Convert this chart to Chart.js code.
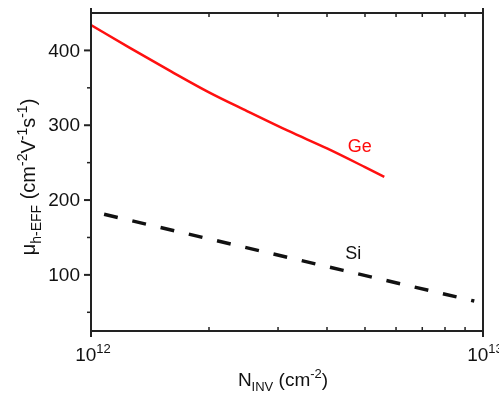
<!DOCTYPE html>
<html lang="en">
<head>
  <meta charset="UTF-8">
  <title>Hole mobility vs inversion charge</title>
  <script src="https://cdn.jsdelivr.net/npm/chart.js"></script>
  <style>
    body {
      margin: 0;
      padding: 0;
      background: #ffffff;
    }
    canvas {
      display: block;
    }
  </style>
</head>
<body>
  <canvas id="mobilityChart" width="499" height="393"></canvas>

  <script>
    // Ge curve (N_inv in cm^-2, mobility in cm^2/Vs)
    const geN = [1e12, 1.25e12, 1.6e12, 2e12, 2.5e12, 3.2e12, 4e12, 5e12, 5.6e12];
    const geMu = [434, 404, 372, 344, 319, 292, 269, 244, 231];

    // Si curve
    const siN = [1.08e12, 4.4e12, 9.5e12];
    const siMu = [181, 106, 65];

    const yMajor = [100, 200, 300, 400];
    const yMinor = [50, 150, 250, 350];
    const xMajor = [1e12, 1e13];
    const xMajorLabels = [['10', '12'], ['10', '13']];
    const xMinor = [2e12, 3e12, 4e12, 5e12, 6e12, 7e12, 8e12, 9e12];

    const fonte = '"Liberation Sans", Arial, Helvetica, sans-serif';

    function pontos(xs, ys) {
      return xs.map((x, i) => ({ x: x, y: ys[i] }));
    }

    // texto com sub/sobrescrito, partes: [texto, 'n'|'sub'|'sup']
    function textoMisto(ctx, partes, x, y, tam, alinhar) {
      const tamPeq = Math.round(tam * 0.7);
      let largura = 0;
      partes.forEach(p => {
        ctx.font = (p[1] === 'n' ? tam : tamPeq) + 'px ' + fonte;
        largura += ctx.measureText(p[0]).width;
      });
      let cx = alinhar === 'center' ? x - largura / 2 : x;
      ctx.textAlign = 'left';
      ctx.textBaseline = 'alphabetic';
      partes.forEach(p => {
        ctx.font = (p[1] === 'n' ? tam : tamPeq) + 'px ' + fonte;
        let dy = 0;
        if (p[1] === 'sub') dy = tam * 0.28;
        if (p[1] === 'sup') dy = -tam * 0.4;
        ctx.fillText(p[0], cx, y + dy);
        cx += ctx.measureText(p[0]).width;
      });
    }

    const eixos = {
      id: 'eixos',
      afterDraw(chart) {
        const ctx = chart.ctx;
        const a = chart.chartArea;
        const sx = chart.scales.x;
        const sy = chart.scales.y;
        ctx.save();
        ctx.strokeStyle = '#222';
        ctx.fillStyle = '#111';
        ctx.lineWidth = 2;

        // moldura
        ctx.beginPath();
        ctx.moveTo(a.left, a.top);
        ctx.lineTo(a.right, a.top);
        ctx.moveTo(a.left, a.bottom);
        ctx.lineTo(a.right, a.bottom);
        ctx.stroke();

        // ticks maiores em x (atravessam a moldura)
        xMajor.forEach(v => {
          const px = sx.getPixelForValue(v);
          ctx.beginPath();
          ctx.moveTo(px, a.top - 5);
          ctx.lineTo(px, a.bottom + 6);
          ctx.stroke();
        });

        // ticks menores em x (para dentro)
        ctx.lineWidth = 1.5;
        xMinor.forEach(v => {
          const px = sx.getPixelForValue(v);
          ctx.beginPath();
          ctx.moveTo(px, a.bottom);
          ctx.lineTo(px, a.bottom - 4);
          ctx.moveTo(px, a.top);
          ctx.lineTo(px, a.top + 4);
          ctx.stroke();
        });

        // ticks em y (para fora)
        ctx.lineWidth = 2;
        yMajor.forEach(v => {
          const py = sy.getPixelForValue(v);
          ctx.beginPath();
          ctx.moveTo(a.left - 7, py);
          ctx.lineTo(a.left, py);
          ctx.stroke();
        });
        ctx.lineWidth = 1.5;
        yMinor.forEach(v => {
          const py = sy.getPixelForValue(v);
          ctx.beginPath();
          ctx.moveTo(a.left - 4, py);
          ctx.lineTo(a.left, py);
          ctx.stroke();
        });

        // rótulos de y
        ctx.font = '19px ' + fonte;
        ctx.textAlign = 'right';
        ctx.textBaseline = 'middle';
        yMajor.forEach(v => {
          ctx.fillText(String(v), a.left - 11, sy.getPixelForValue(v) + 1);
        });

        // rótulos de x
        xMajor.forEach((v, i) => {
          const l = xMajorLabels[i];
          textoMisto(ctx, [[l[0], 'n'], [l[1], 'sup']], sx.getPixelForValue(v) + 2, 361, 19, 'center');
        });

        // título x
        textoMisto(ctx, [['N', 'n'], ['INV', 'sub'], [' (cm', 'n'], ['-2', 'sup'], [')', 'n']],
          (a.left + a.right) / 2 - 4, 386, 19, 'center');

        // título y (girado)
        ctx.save();
        ctx.translate(35, (a.top + a.bottom) / 2 + 5);
        ctx.rotate(-Math.PI / 2);
        textoMisto(ctx, [['\u03bc', 'n'], ['h-EFF', 'sub'], [' (cm', 'n'], ['-2', 'sup'], ['V', 'n'],
          ['-1', 'sup'], ['s', 'n'], ['-1', 'sup'], [')', 'n']], 0, 0, 20, 'center');
        ctx.restore();

        // nomes das curvas
        ctx.font = '18px ' + fonte;
        ctx.textAlign = 'left';
        ctx.textBaseline = 'middle';
        ctx.fillStyle = '#ff0a0a';
        ctx.fillText('Ge', sx.getPixelForValue(4.52e12), sy.getPixelForValue(271));
        ctx.fillStyle = '#111';
        ctx.fillText('Si', sx.getPixelForValue(4.45e12), sy.getPixelForValue(128));
        ctx.restore();
      }
    };

    new Chart(document.getElementById('mobilityChart'), {
      type: 'line',
      data: {
        datasets: [
          {
            label: 'Ge',
            data: pontos(geN, geMu),
            borderColor: '#ff1010',
            borderWidth: 2.5,
            pointRadius: 0,
            cubicInterpolationMode: 'monotone',
            fill: false
          },
          {
            label: 'Si',
            data: pontos(siN, siMu),
            borderColor: '#111',
            borderWidth: 3.5,
            borderDash: [14, 15],
            pointRadius: 0,
            tension: 0,
            fill: false
          }
        ]
      },
      options: {
        responsive: false,
        animation: false,
        layout: {
          padding: { left: 91, right: 16, top: 13, bottom: 62 }
        },
        plugins: {
          legend: { display: false },
          tooltip: { enabled: false }
        },
        scales: {
          x: {
            type: 'logarithmic',
            min: 1e12,
            max: 1e13,
            display: false
          },
          y: {
            type: 'linear',
            min: 25,
            max: 450,
            display: false
          }
        }
      },
      plugins: [eixos]
    });
  </script>
</body>
</html>
